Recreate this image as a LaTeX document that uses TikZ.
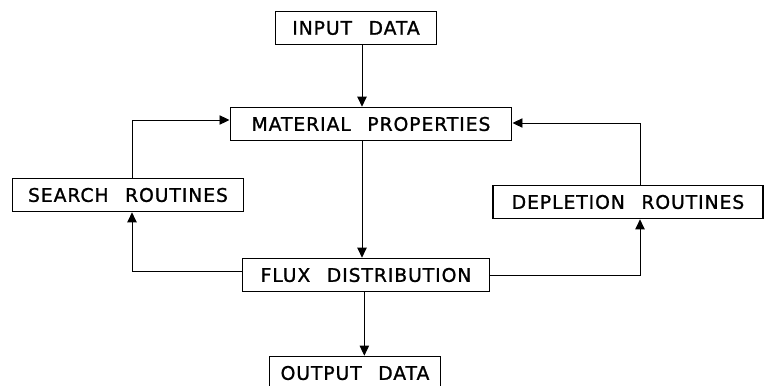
\documentclass[tikz,border=0pt]{standalone}
\usepackage{fontspec}
\setmainfont{DejaVu Sans}[WordSpace=2.4, LetterSpace=5, FakeBold=1.2]
\usepackage{tikz}
\usetikzlibrary{positioning, arrows.meta}

\begin{document}
\begin{tikzpicture}[
    x=0.03cm, y=-0.03cm,
    blk/.style={draw, line width=1.1pt, minimum height=1cm, align=center, inner sep=0pt, font=\fontsize{16}{18}\selectfont},
    arr/.style={-{Triangle[length=3mm, width=2.8mm]}, line width=0.8pt}
]
\useasboundingbox (0,0) rectangle (765,385);

\node[blk, minimum width=4.85cm] (input) at (356, 28) {INPUT DATA};
\node[blk, minimum width=8.45cm] (matprop) at (371, 124) {MATERIAL PROPERTIES};
\node[blk, minimum width=6.95cm] (search) at (128, 195) {SEARCH ROUTINES};
\node[blk, minimum width=8.1cm] (deplete) at (628, 202) {DEPLETION ROUTINES};
\node[blk, minimum width=7.4cm] (flux) at (366, 275) {FLUX DISTRIBUTION};
\node[blk, minimum width=5.15cm] (output) at (355, 373) {OUTPUT DATA};

\draw[arr] ([xshift=0.18cm]input.south) -- ([xshift=0.18cm]input.south |- matprop.north);
\draw[arr] ([xshift=-0.27cm]matprop.south) -- ([xshift=-0.27cm]matprop.south |- flux.north);
\draw[arr] ([xshift=0.12cm]search.north) |- ([yshift=0.12cm]matprop.west);
\draw[arr] ([yshift=0.12cm]flux.west) -| ([xshift=0.12cm]search.south);
\draw[arr] ([xshift=0.36cm]deplete.north) |- ([yshift=0.03cm]matprop.east);
\draw[arr] (flux.east) -| ([xshift=0.36cm]deplete.south);
\draw[arr] ([xshift=-0.05cm]flux.south) -- ([xshift=-0.05cm]flux.south |- output.north);
\end{tikzpicture}
\end{document}
